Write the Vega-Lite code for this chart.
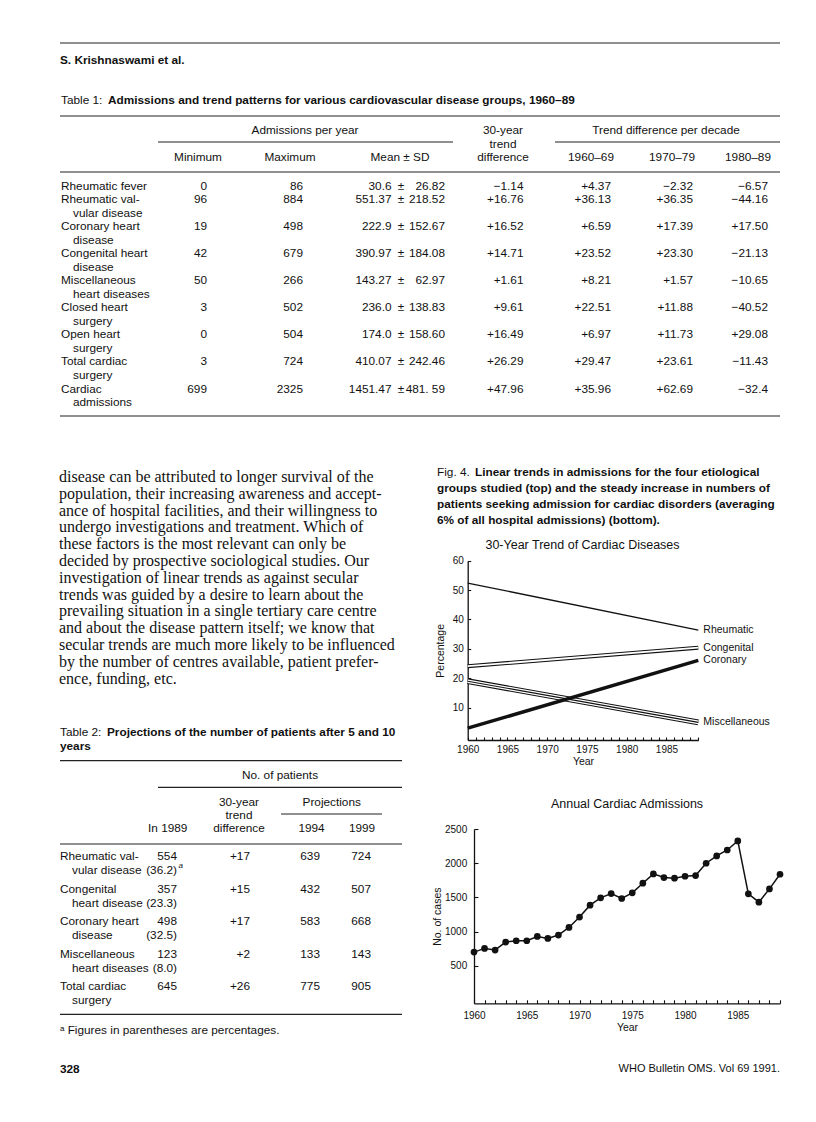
{
  "$schema": "https://vega.github.io/schema/vega-lite/v6.json",
  "width": 816,
  "height": 1122,
  "autosize": {"type": "none"},
  "padding": 0,
  "background": "#ffffff",
  "config": {
    "view": {"stroke": null},
    "font": "Liberation Sans",
    "text": {"font": "Liberation Sans", "fontSize": 11.8, "color": "#111111", "baseline": "middle"},
    "axis": {"grid": false, "domainColor": "#111111", "domainWidth": 1.3, "tickColor": "#111111", "tickWidth": 1.1, "labelColor": "#111111", "titleColor": "#111111", "labelFont": "Liberation Sans", "titleFont": "Liberation Sans", "titleFontWeight": "normal", "labelOverlap": false, "labelFlush": false, "labelFontSize": 10, "titleFontSize": 10.5}
  },
  "datasets": {
    "rules": [
      {"rule": "running head"}, {"rule": "running head"},
      {"rule": "table 1 top"}, {"rule": "table 1 top"},
      {"rule": "admissions per year"}, {"rule": "admissions per year"},
      {"rule": "trend per decade"}, {"rule": "trend per decade"},
      {"rule": "table 1 header"}, {"rule": "table 1 header"},
      {"rule": "table 1 bottom"}, {"rule": "table 1 bottom"},
      {"rule": "table 2 top"}, {"rule": "table 2 top"},
      {"rule": "no. of patients"}, {"rule": "no. of patients"},
      {"rule": "projections"}, {"rule": "projections"},
      {"rule": "table 2 header"}, {"rule": "table 2 header"},
      {"rule": "table 2 bottom"}, {"rule": "table 2 bottom"}
    ],
    "boldLines": [
      {"text": "S. Krishnaswami et al."},
      {"text": "Admissions and trend patterns for various cardiovascular disease groups, 1960–89"},
      {"text": "Linear trends in admissions for the four etiological"},
      {"text": "groups studied (top) and the steady increase in numbers of"},
      {"text": "patients seeking admission for cardiac disorders (averaging"},
      {"text": "6% of all hospital admissions) (bottom)."},
      {"text": "Projections of the number of patients after 5 and 10"},
      {"text": "years"},
      {"text": "328"}
    ],
    "plainLines": [
      {"text": "Table 1:"},
      {"text": "Fig. 4."},
      {"text": "Table 2:"},
      {"text": "ᵃ Figures in parentheses are percentages."}
    ],
    "headers": [
      {"text": "Admissions per year"},
      {"text": "30-year"},
      {"text": "Trend difference per decade"},
      {"text": "trend"},
      {"text": "Minimum"},
      {"text": "Maximum"},
      {"text": "Mean ± SD"},
      {"text": "difference"},
      {"text": "1960–69"},
      {"text": "1970–79"},
      {"text": "1980–89"},
      {"text": "No. of patients"},
      {"text": "30-year"},
      {"text": "Projections"},
      {"text": "trend"},
      {"text": "In 1989"},
      {"text": "difference"},
      {"text": "1994"},
      {"text": "1999"}
    ],
    "chartTitles": [
      {"text": "30-Year Trend of Cardiac Diseases"},
      {"text": "Annual Cardiac Admissions"}
    ],
    "paragraph": [
      {"line": "disease can be attributed to longer survival of the"},
      {"line": "population, their increasing awareness and accept-"},
      {"line": "ance of hospital facilities, and their willingness to"},
      {"line": "undergo investigations and treatment. Which of"},
      {"line": "these factors is the most relevant can only be"},
      {"line": "decided by prospective sociological studies. Our"},
      {"line": "investigation of linear trends as against secular"},
      {"line": "trends was guided by a desire to learn about the"},
      {"line": "prevailing situation in a single tertiary care centre"},
      {"line": "and about the disease pattern itself; we know that"},
      {"line": "secular trends are much more likely to be influenced"},
      {"line": "by the number of centres available, patient prefer-"},
      {"line": "ence, funding, etc."}
    ],
    "table1": [
      {"group1": "Rheumatic fever", "group2": "", "min": "0", "max": "86", "mean": "30.6", "sd": "26.82", "t30": "−1.14", "d60": "+4.37", "d70": "−2.32", "d80": "−6.57"},
      {"group1": "Rheumatic val-", "group2": "vular disease", "min": "96", "max": "884", "mean": "551.37", "sd": "218.52", "t30": "+16.76", "d60": "+36.13", "d70": "+36.35", "d80": "−44.16"},
      {"group1": "Coronary heart", "group2": "disease", "min": "19", "max": "498", "mean": "222.9", "sd": "152.67", "t30": "+16.52", "d60": "+6.59", "d70": "+17.39", "d80": "+17.50"},
      {"group1": "Congenital heart", "group2": "disease", "min": "42", "max": "679", "mean": "390.97", "sd": "184.08", "t30": "+14.71", "d60": "+23.52", "d70": "+23.30", "d80": "−21.13"},
      {"group1": "Miscellaneous", "group2": "heart diseases", "min": "50", "max": "266", "mean": "143.27", "sd": "62.97", "t30": "+1.61", "d60": "+8.21", "d70": "+1.57", "d80": "−10.65"},
      {"group1": "Closed heart", "group2": "surgery", "min": "3", "max": "502", "mean": "236.0", "sd": "138.83", "t30": "+9.61", "d60": "+22.51", "d70": "+11.88", "d80": "−40.52"},
      {"group1": "Open heart", "group2": "surgery", "min": "0", "max": "504", "mean": "174.0", "sd": "158.60", "t30": "+16.49", "d60": "+6.97", "d70": "+11.73", "d80": "+29.08"},
      {"group1": "Total cardiac", "group2": "surgery", "min": "3", "max": "724", "mean": "410.07", "sd": "242.46", "t30": "+26.29", "d60": "+29.47", "d70": "+23.61", "d80": "−11.43"},
      {"group1": "Cardiac", "group2": "admissions", "min": "699", "max": "2325", "mean": "1451.47", "sd": "481. 59", "t30": "+47.96", "d60": "+35.96", "d70": "+62.69", "d80": "−32.4"}
    ],
    "table2": [
      {"group1": "Rheumatic val-", "group2": "vular disease", "n1989": "554", "pct": "(36.2)", "note": "a", "trend": "+17", "p1994": "639", "p1999": "724"},
      {"group1": "Congenital", "group2": "heart disease", "n1989": "357", "pct": "(23.3)", "note": "", "trend": "+15", "p1994": "432", "p1999": "507"},
      {"group1": "Coronary heart", "group2": "disease", "n1989": "498", "pct": "(32.5)", "note": "", "trend": "+17", "p1994": "583", "p1999": "668"},
      {"group1": "Miscellaneous", "group2": "heart diseases", "n1989": "123", "pct": "(8.0)", "note": "", "trend": "+2", "p1994": "133", "p1999": "143"},
      {"group1": "Total cardiac", "group2": "surgery", "n1989": "645", "pct": "", "note": "", "trend": "+26", "p1994": "775", "p1999": "905"}
    ],
    "trends": [
      {"series": "Rheumatic", "year": 1960, "pct": 52.4},
      {"series": "Rheumatic", "year": 1989, "pct": 36.4},
      {"series": "Congenital", "year": 1960, "pct": 24.1},
      {"series": "Congenital", "year": 1989, "pct": 30.4},
      {"series": "Coronary", "year": 1960, "pct": 3.0},
      {"series": "Coronary", "year": 1989, "pct": 26.1},
      {"series": "Miscellaneous", "year": 1960, "pct": 19.0},
      {"series": "Miscellaneous", "year": 1989, "pct": 5.0}
    ],
    "admissions": [
      {"year": 1960, "cases": 699}, {"year": 1961, "cases": 753}, {"year": 1962, "cases": 729},
      {"year": 1963, "cases": 846}, {"year": 1964, "cases": 865}, {"year": 1965, "cases": 865},
      {"year": 1966, "cases": 928}, {"year": 1967, "cases": 899}, {"year": 1968, "cases": 948},
      {"year": 1969, "cases": 1060}, {"year": 1970, "cases": 1211}, {"year": 1971, "cases": 1386},
      {"year": 1972, "cases": 1493}, {"year": 1973, "cases": 1556}, {"year": 1974, "cases": 1483},
      {"year": 1975, "cases": 1566}, {"year": 1976, "cases": 1707}, {"year": 1977, "cases": 1843},
      {"year": 1978, "cases": 1790}, {"year": 1979, "cases": 1780}, {"year": 1980, "cases": 1809},
      {"year": 1981, "cases": 1819}, {"year": 1982, "cases": 1999}, {"year": 1983, "cases": 2106},
      {"year": 1984, "cases": 2193}, {"year": 1985, "cases": 2325}, {"year": 1986, "cases": 1551},
      {"year": 1987, "cases": 1430}, {"year": 1988, "cases": 1624}, {"year": 1989, "cases": 1838}
    ]
  },
  "layer": [
    {
      "data": {"name": "rules"},
      "transform": [{"window": [{"op": "row_number", "as": "k"}]}],
      "mark": {"type": "line", "color": "#222222", "strokeWidth": 1.2},
      "encoding": {
        "x": {"field": "k", "type": "quantitative", "axis": null, "scale": {"domain": [1,2,3,4,5,6,7,8,9,10,11,12,13,14,15,16,17,18,19,20,21,22], "range": [60,780,60,780,158,453,555,780,60,780,60,780,60,402,158,402,281,382,60,402,60,402], "nice": false, "zero": false}},
        "y": {"field": "k", "type": "quantitative", "axis": null, "scale": {"domain": [1,2,3,4,5,6,7,8,9,10,11,12,13,14,15,16,17,18,19,20,21,22], "range": [43,43,116,116,142,142,142,142,172,172,416,416,760.7,760.7,787.3,787.3,814,814,844,844,1014.3,1014.3], "nice": false, "zero": false}},
        "detail": {"field": "rule", "type": "nominal"}
      }
    },
    {
      "data": {"name": "boldLines"},
      "transform": [{"window": [{"op": "row_number", "as": "k"}]}],
      "mark": {"type": "text", "align": "left", "fontWeight": "bold", "fontSize": 11.8},
      "encoding": {
        "text": {"field": "text", "type": "nominal"},
        "x": {"field": "k", "type": "quantitative", "axis": null, "scale": {"domain": [1,2,3,4,5,6,7,8,9], "range": [60,108,475,437,437,437,107,60,60], "nice": false, "zero": false}},
        "y": {"field": "k", "type": "quantitative", "axis": null, "scale": {"domain": [1,2,3,4,5,6,7,8,9], "range": [60,100,472,488,504,520,731.7,745.5,1069], "nice": false, "zero": false}}
      }
    },
    {
      "data": {"name": "plainLines"},
      "transform": [{"window": [{"op": "row_number", "as": "k"}]}],
      "mark": {"type": "text", "align": "left", "fontSize": 11.8},
      "encoding": {
        "text": {"field": "text", "type": "nominal"},
        "x": {"field": "k", "type": "quantitative", "axis": null, "scale": {"domain": [1,2,3,4], "range": [61,437,60,60], "nice": false, "zero": false}},
        "y": {"field": "k", "type": "quantitative", "axis": null, "scale": {"domain": [1,2,3,4], "range": [100,472,731.7,1030], "nice": false, "zero": false}}
      }
    },
    {
      "data": {"name": "headers"},
      "transform": [{"window": [{"op": "row_number", "as": "k"}]}],
      "mark": {"type": "text", "align": "center", "fontSize": 11.8},
      "encoding": {
        "text": {"field": "text", "type": "nominal"},
        "x": {"field": "k", "type": "quantitative", "axis": null, "scale": {"domain": [1,2,3,4,5,6,7,8,9,10,11,12,13,14,15,16,17,18,19], "range": [305,503,666,503,198,290,400,503,591,672,748,280,239,331.7,239,167.7,239,311.5,362], "nice": false, "zero": false}},
        "y": {"field": "k", "type": "quantitative", "axis": null, "scale": {"domain": [1,2,3,4,5,6,7,8,9,10,11,12,13,14,15,16,17,18,19], "range": [130,130,130,143.5,157,157,157,157,157,157,157,775,801.7,801.7,815,828.3,828.3,828.3,828.3], "nice": false, "zero": false}}
      }
    },
    {
      "data": {"name": "chartTitles"},
      "transform": [{"window": [{"op": "row_number", "as": "k"}]}],
      "mark": {"type": "text", "align": "center", "fontSize": 12.5},
      "encoding": {
        "text": {"field": "text", "type": "nominal"},
        "x": {"field": "k", "type": "quantitative", "axis": null, "scale": {"domain": [1,2], "range": [582.5,627], "nice": false, "zero": false}},
        "y": {"field": "k", "type": "quantitative", "axis": null, "scale": {"domain": [1,2], "range": [545,804], "nice": false, "zero": false}}
      }
    },
    {
      "data": {"values": [{"text": "WHO Bulletin OMS. Vol 69 1991."}]},
      "mark": {"type": "text", "align": "right", "fontSize": 11},
      "encoding": {
        "text": {"field": "text", "type": "nominal"},
        "x": {"datum": 1, "type": "quantitative", "axis": null, "scale": {"domain": [0,1], "range": [60,780], "nice": false, "zero": false}},
        "y": {"datum": 1, "type": "quantitative", "axis": null, "scale": {"domain": [0,1], "range": [43,1069], "nice": false, "zero": false}}
      }
    },
    {
      "data": {"name": "paragraph"},
      "transform": [{"window": [{"op": "row_number", "as": "k"}]}],
      "mark": {"type": "text", "align": "left", "font": "Liberation Serif", "fontSize": 16},
      "encoding": {
        "text": {"field": "line", "type": "nominal"},
        "x": {"datum": 0, "type": "quantitative", "axis": null, "scale": {"domain": [0,1], "range": [59,404], "nice": false, "zero": false}},
        "y": {"field": "k", "type": "quantitative", "axis": null, "scale": {"domain": [1,13], "range": [477,678.6], "nice": false, "zero": false}}
      }
    },
    {
      "data": {"name": "table1"},
      "transform": [{"window": [{"op": "row_number", "as": "k"}]}],
      "encoding": {
        "y": {"field": "k", "type": "quantitative", "axis": null, "scale": {"domain": [1,2,9], "range": [185.7,199.2,388.5], "nice": false, "zero": false}}
      },
      "layer": [
        {"mark": {"type": "text", "align": "left"}, "encoding": {"text": {"field": "group1", "type": "nominal"}, "x": {"datum": 0, "type": "quantitative", "axis": null, "scale": {"domain": [0,1,2,3,4,5,6,7,8,9,10], "range": [61,73,207,303,391.5,401,445,523.5,611,693,768], "nice": false, "zero": false}}}},
        {"mark": {"type": "text", "align": "left", "dy": 13.6}, "encoding": {"text": {"field": "group2", "type": "nominal"}, "x": {"datum": 1, "type": "quantitative", "axis": null}}},
        {"mark": {"type": "text", "align": "right"}, "encoding": {"text": {"field": "min", "type": "nominal"}, "x": {"datum": 2, "type": "quantitative", "axis": null}}},
        {"mark": {"type": "text", "align": "right"}, "encoding": {"text": {"field": "max", "type": "nominal"}, "x": {"datum": 3, "type": "quantitative", "axis": null}}},
        {"mark": {"type": "text", "align": "right"}, "encoding": {"text": {"field": "mean", "type": "nominal"}, "x": {"datum": 4, "type": "quantitative", "axis": null}}},
        {"mark": {"type": "text", "align": "center"}, "encoding": {"text": {"value": "±"}, "x": {"datum": 5, "type": "quantitative", "axis": null}}},
        {"mark": {"type": "text", "align": "right"}, "encoding": {"text": {"field": "sd", "type": "nominal"}, "x": {"datum": 6, "type": "quantitative", "axis": null}}},
        {"mark": {"type": "text", "align": "right"}, "encoding": {"text": {"field": "t30", "type": "nominal"}, "x": {"datum": 7, "type": "quantitative", "axis": null}}},
        {"mark": {"type": "text", "align": "right"}, "encoding": {"text": {"field": "d60", "type": "nominal"}, "x": {"datum": 8, "type": "quantitative", "axis": null}}},
        {"mark": {"type": "text", "align": "right"}, "encoding": {"text": {"field": "d70", "type": "nominal"}, "x": {"datum": 9, "type": "quantitative", "axis": null}}},
        {"mark": {"type": "text", "align": "right"}, "encoding": {"text": {"field": "d80", "type": "nominal"}, "x": {"datum": 10, "type": "quantitative", "axis": null}}}
      ]
    },
    {
      "data": {"name": "table2"},
      "transform": [{"window": [{"op": "row_number", "as": "k"}]}],
      "encoding": {
        "y": {"field": "k", "type": "quantitative", "axis": null, "scale": {"domain": [1,5], "range": [856,986], "nice": false, "zero": false}}
      },
      "layer": [
        {"mark": {"type": "text", "align": "left"}, "encoding": {"text": {"field": "group1", "type": "nominal"}, "x": {"datum": 0, "type": "quantitative", "axis": null, "scale": {"domain": [0,1,2,3,4,5], "range": [60,72,177,250,320,371], "nice": false, "zero": false}}}},
        {"mark": {"type": "text", "align": "left", "dy": 14}, "encoding": {"text": {"field": "group2", "type": "nominal"}, "x": {"datum": 1, "type": "quantitative", "axis": null}}},
        {"mark": {"type": "text", "align": "right"}, "encoding": {"text": {"field": "n1989", "type": "nominal"}, "x": {"datum": 2, "type": "quantitative", "axis": null}}},
        {"mark": {"type": "text", "align": "right", "dy": 14}, "encoding": {"text": {"field": "pct", "type": "nominal"}, "x": {"datum": 2, "type": "quantitative", "axis": null}}},
        {"mark": {"type": "text", "align": "left", "dy": 10, "dx": 1.5, "fontSize": 8, "fontStyle": "italic"}, "encoding": {"text": {"field": "note", "type": "nominal"}, "x": {"datum": 2, "type": "quantitative", "axis": null}}},
        {"mark": {"type": "text", "align": "right"}, "encoding": {"text": {"field": "trend", "type": "nominal"}, "x": {"datum": 3, "type": "quantitative", "axis": null}}},
        {"mark": {"type": "text", "align": "right"}, "encoding": {"text": {"field": "p1994", "type": "nominal"}, "x": {"datum": 4, "type": "quantitative", "axis": null}}},
        {"mark": {"type": "text", "align": "right"}, "encoding": {"text": {"field": "p1999", "type": "nominal"}, "x": {"datum": 5, "type": "quantitative", "axis": null}}}
      ]
    },
    {
      "data": {"name": "trends"},
      "encoding": {
        "x": {"field": "year", "type": "quantitative", "scale": {"domain": [1960, 1989], "range": [467.7, 698.3], "nice": false, "zero": false},
          "axis": {"orient": "bottom", "offset": -382, "values": [1960,1961,1962,1963,1964,1965,1966,1967,1968,1969,1970,1971,1972,1973,1974,1975,1976,1977,1978,1979,1980,1981,1982,1983,1984,1985,1986,1987,1988,1989], "format": "d", "labelExpr": "datum.value % 5 === 0 ? datum.label : ''", "tickSize": -3, "labelPadding": 7.5, "title": "Year", "titlePadding": 2}},
        "y": {"field": "pct", "type": "quantitative", "scale": {"domain": [-1, 60], "range": [740, 560.7], "nice": false, "zero": false},
          "axis": {"orient": "left", "offset": -467.7, "values": [10,20,30,40,50,60], "format": "d", "tickSize": -3, "labelPadding": 7.4, "title": "Percentage", "titlePadding": 7}}
      },
      "layer": [
        {"transform": [{"filter": "datum.series === 'Rheumatic'"}], "mark": {"type": "line", "color": "#111111", "strokeWidth": 1.3}},
        {"transform": [{"filter": "datum.series === 'Congenital'"}], "mark": {"type": "line", "color": "#111111", "strokeWidth": 4.0}},
        {"transform": [{"filter": "datum.series === 'Congenital'"}], "mark": {"type": "line", "color": "#ffffff", "strokeWidth": 1.8}},
        {"transform": [{"filter": "datum.series === 'Miscellaneous'"}], "mark": {"type": "line", "color": "#111111", "strokeWidth": 5.8}},
        {"transform": [{"filter": "datum.series === 'Miscellaneous'"}], "mark": {"type": "line", "color": "#ffffff", "strokeWidth": 3.6}},
        {"transform": [{"filter": "datum.series === 'Miscellaneous'"}], "mark": {"type": "line", "color": "#111111", "strokeWidth": 1.1}},
        {"transform": [{"filter": "datum.series === 'Coronary'"}], "mark": {"type": "line", "color": "#111111", "strokeWidth": 3.4}},
        {"transform": [{"filter": "datum.year === 1989"}], "mark": {"type": "text", "align": "left", "dx": 5, "fontSize": 10.5}, "encoding": {"text": {"field": "series", "type": "nominal"}}},
        {"data": {"values": [{"code": "WHO 91119"}]}, "mark": {"type": "text", "angle": 90, "fontSize": 5.5, "align": "center"}, "encoding": {"text": {"field": "code", "type": "nominal"}, "x": {"datum": 1998.9, "type": "quantitative"}, "y": {"datum": 4.1, "type": "quantitative"}}}
      ]
    },
    {
      "data": {"name": "admissions"},
      "encoding": {
        "x": {"field": "year", "type": "quantitative", "scale": {"domain": [1960, 1989], "range": [474, 780], "nice": false, "zero": false},
          "axis": {"orient": "bottom", "offset": -118.7, "values": [1960,1961,1962,1963,1964,1965,1966,1967,1968,1969,1970,1971,1972,1973,1974,1975,1976,1977,1978,1979,1980,1981,1982,1983,1984,1985,1986,1987,1988,1989], "format": "d", "labelExpr": "datum.value % 5 === 0 ? datum.label : ''", "tickSize": -3.5, "labelPadding": 11, "title": "Year", "titlePadding": 2}},
        "y": {"field": "cases", "type": "quantitative", "scale": {"domain": [-50, 2500], "range": [1003.3, 829], "nice": false, "zero": false},
          "axis": {"orient": "left", "offset": -474, "values": [500,1000,1500,2000,2500], "format": "d", "tickSize": -4, "labelPadding": 11.3, "title": "No. of cases", "titlePadding": 2.2}}
      },
      "layer": [
        {"mark": {"type": "line", "color": "#111111", "strokeWidth": 1.5}},
        {"mark": {"type": "point", "filled": true, "color": "#111111", "size": 45, "opacity": 1}},
        {"data": {"values": [{"code": "WHO 91120"}]}, "mark": {"type": "text", "angle": 90, "fontSize": 5.5, "align": "center"}, "encoding": {"text": {"field": "code", "type": "nominal"}, "x": {"datum": 1988.8, "type": "quantitative"}, "y": {"datum": 202, "type": "quantitative"}}}
      ]
    }
  ],
  "resolve": {"scale": {"x": "independent", "y": "independent"}, "axis": {"x": "independent", "y": "independent"}}
}
